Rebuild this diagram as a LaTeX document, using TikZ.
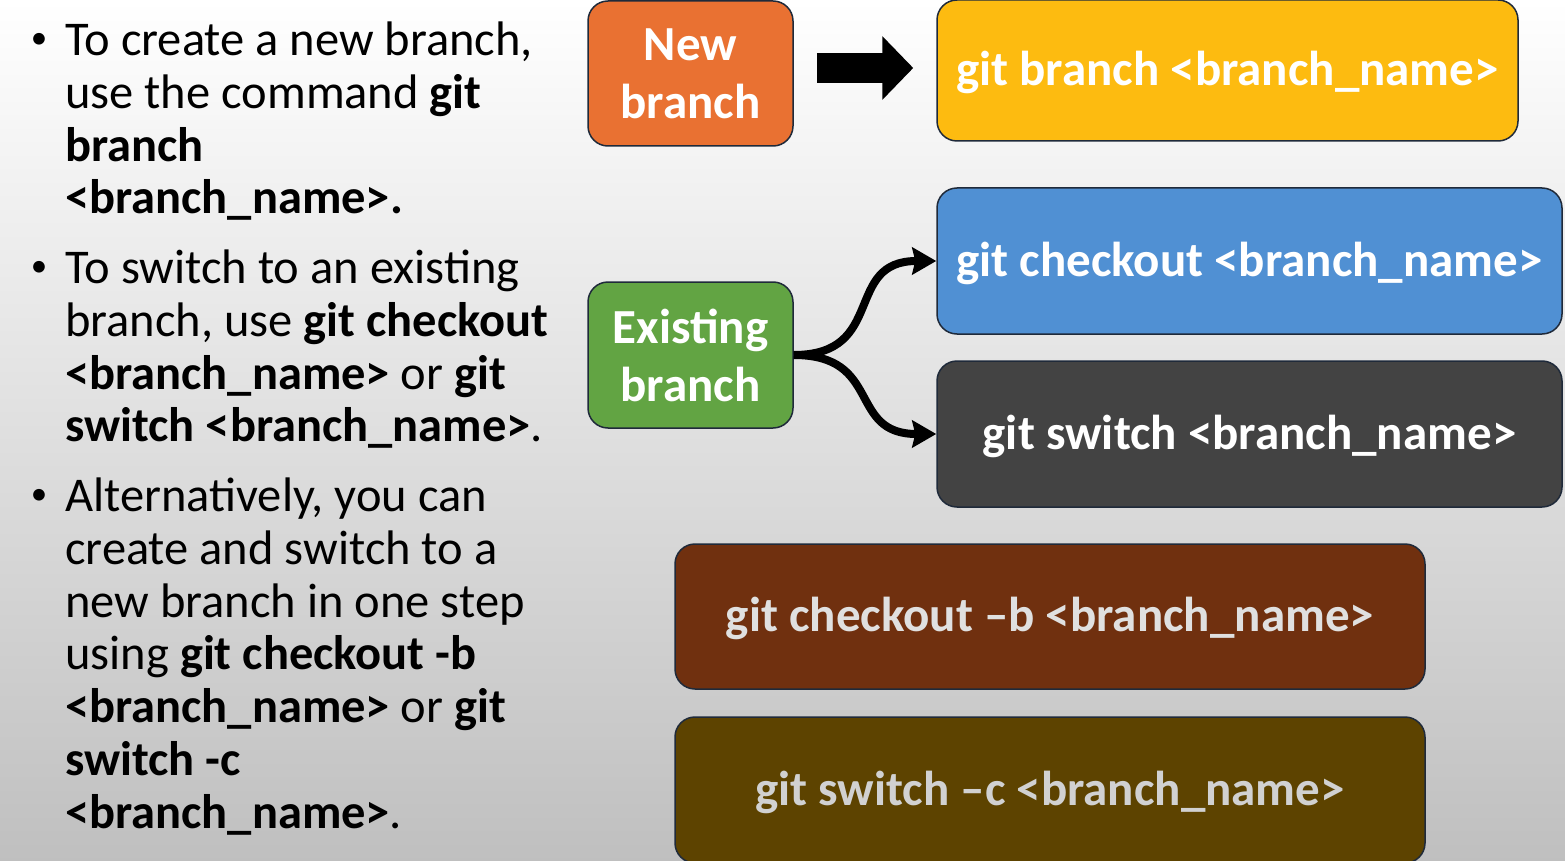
\documentclass[tikz,border=0pt]{standalone}
\usepackage{fontspec}
\setmainfont{Carlito}
\usetikzlibrary{calc}
\usetikzlibrary{arrows.meta}

\definecolor{neworange}{HTML}{E97132}
\definecolor{branchgold}{HTML}{FDBB10}
\definecolor{checkoutblue}{HTML}{5090D3}
\definecolor{existgreen}{HTML}{62A443}
\definecolor{switchgray}{HTML}{434343}
\definecolor{cobrown}{HTML}{70300F}
\definecolor{swcolive}{HTML}{5D4300}
\definecolor{boxedge}{HTML}{1F2A3A}

\newcommand{\bul}{\llap{\raisebox{7pt}{\fontsize{33}{33}\selectfont•}\hspace{18pt}}}

\begin{document}
\begin{tikzpicture}[x=1pt, y=-1pt,
  box/.style={draw=boxedge, line width=1.5pt, rounded corners=20pt, text=white, inner sep=0,
    align=center, font=\fontsize{49}{58}\selectfont\bfseries},
  cmdbox/.style={box, text height=40pt, text depth=10pt},
  para/.style={anchor=north west, inner sep=0, align=left, font=\fontsize{48.5}{52.7}\selectfont},
  forkarrow/.style={line width=8pt, -{Stealth[length=24pt,width=27pt,inset=3pt]}},
  fatarrow/.style={line width=30pt, -{Triangle[length=31pt,width=62pt]}}]
\useasboundingbox (0,0) rectangle (1565,861);
\shade[top color=white, middle color=black!6, bottom color=black!25] (0,0) rectangle (1565,861);

% bullet text on the left
\node[para] (b1) at (65,22) {\bul To create a new branch,\\
  use the command \textbf{git}\\ \textbf{branch}\\ \textbf{<branch\_name>.}};
\node[para] (b2) at (65,250) {\bul To switch to an existing\\
  branch, use \textbf{git checkout}\\ \textbf{<branch\_name>} or \textbf{git}\\
  \textbf{switch <branch\_name>}.};
\node[para] (b3) at (65,478) {\bul Alternatively, you can\\
  create and switch to a\\ new branch in one step\\ using \textbf{git checkout -b}\\
  \textbf{<branch\_name>} or \textbf{git}\\ \textbf{switch -c}\\ \textbf{<branch\_name>}.};

% boxes
\node[box, fill=neworange, minimum width=205, minimum height=145] (newb) at (690.5,73.5) {New\\branch};
\node[cmdbox, fill=branchgold, minimum width=581, minimum height=141] (gbr) at (1227.5,70.5) {git branch <branch\_name>};
\node[box, fill=existgreen, minimum width=205, minimum height=146] (exb) at (690.5,355) {Existing\\branch};
\node[cmdbox, fill=checkoutblue, minimum width=625, minimum height=146] (gco) at (1249.5,261) {git checkout <branch\_name>};
\node[cmdbox, fill=switchgray, minimum width=625, minimum height=146] (gsw) at (1249.5,434) {git switch <branch\_name>};
\node[cmdbox, fill=cobrown, text=black!12, minimum width=750, minimum height=145] (gcob) at (1050,616.5) {git checkout –b <branch\_name>};
\node[cmdbox, fill=swcolive, text=black!18, minimum width=750, minimum height=146] (gswc) at (1050,790) {git switch –c <branch\_name>};

% arrows
\draw[fatarrow] ($(newb.east |- gbr.west)+(23,-2.5)$) -- ($(gbr.west)+(-23,-2.5)$);
\draw[forkarrow] (exb.east) to[out=0,in=180,looseness=1.4] (gco.west);
\draw[forkarrow] (exb.east) to[out=0,in=180,looseness=1.4] (gsw.west);
\end{tikzpicture}
\end{document}
